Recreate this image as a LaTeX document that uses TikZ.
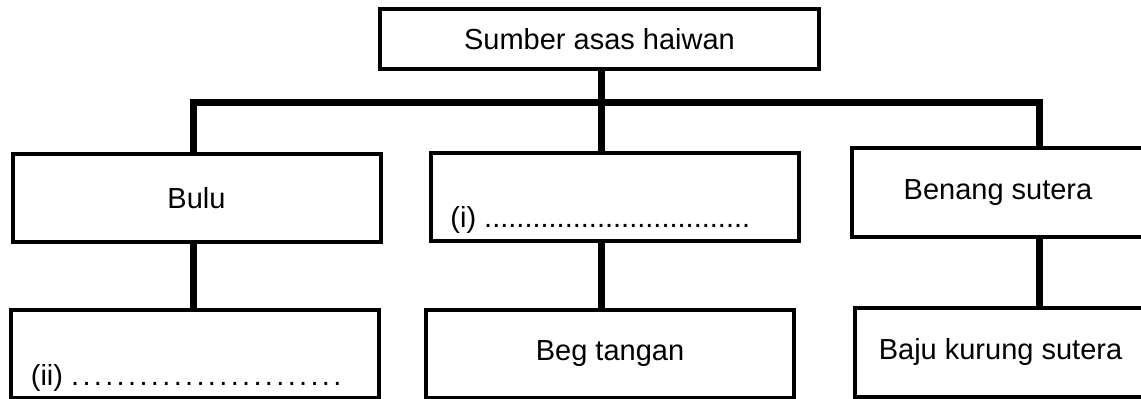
\documentclass[tikz,border=0pt]{standalone}
\usepackage{fontspec}
\setmainfont{Liberation Sans}

% spaced dot for the second answer line
\newcommand\gapdot{.\kern1.67pt}

\begin{document}
\begin{tikzpicture}[
    x=0.5pt, y=-0.5pt,
    every node/.style={font=\fontsize{14.5}{17}\selectfont},
    item box/.style={draw, line width=2pt, inner sep=0pt, minimum height=44pt},
    wide box/.style={item box, minimum width=184pt},
    edge box/.style={item box, minimum width=146pt, minimum height=44.5pt},
    answer line/.style={anchor=base west, inner sep=0pt},
    link/.style={line width=3.5pt, line join=miter}
]

    % === Frame ===
    \useasboundingbox (0,0) rectangle (1141,399);

    % === Coordinates of the bus ===
    \coordinate (busL) at (193,103);
    \coordinate (busM) at (601,103);
    \coordinate (busR) at (1039,103);

    % === Boxes ===
    \node[item box, minimum width=219.5pt, minimum height=30pt] (sumber) at (599.5,39) {Sumber asas haiwan};

    \node[wide box] (bulu) at (196.5,198) {Bulu};
    \node[wide box] (itm) at (615,197) {};
    \node[edge box] (benang) at (998,192.5) {Benang sutera};

    \node[wide box] (ii) at (194.5,354) {};
    \node[wide box] (beg) at (610,354) {Beg tangan};
    \node[edge box] (baju) at (1000.5,352.5) {Baju kurung sutera};

    % Answer lines, set low and to the left
    \node[answer line] (itm text) at ([xshift=10.5pt, yshift=7.75pt]itm.south west) {(i) .................................};
    \node[answer line] (ii text) at ([xshift=11pt, yshift=7pt]ii.south west)
        {(ii) \gapdot\gapdot\gapdot\gapdot\gapdot\gapdot\gapdot\gapdot\gapdot\gapdot\gapdot\gapdot\gapdot\gapdot\gapdot\gapdot\gapdot\gapdot\gapdot\gapdot\gapdot\gapdot\gapdot\gapdot};

    % === Connectors ===
    \draw[link] (bulu.north -| busL) -- (busL) -- (busR) -- (busR |- benang.north);
    \draw[link] (sumber.south -| busM) -- (itm.north -| busM);

    \draw[link] (bulu.south -| busL) -- (ii.north -| busL);
    \draw[link] (itm.south -| busM) -- (beg.north -| busM);
    \draw[link] (benang.south -| busR) -- (baju.north -| busR);

\end{tikzpicture}
\end{document}
